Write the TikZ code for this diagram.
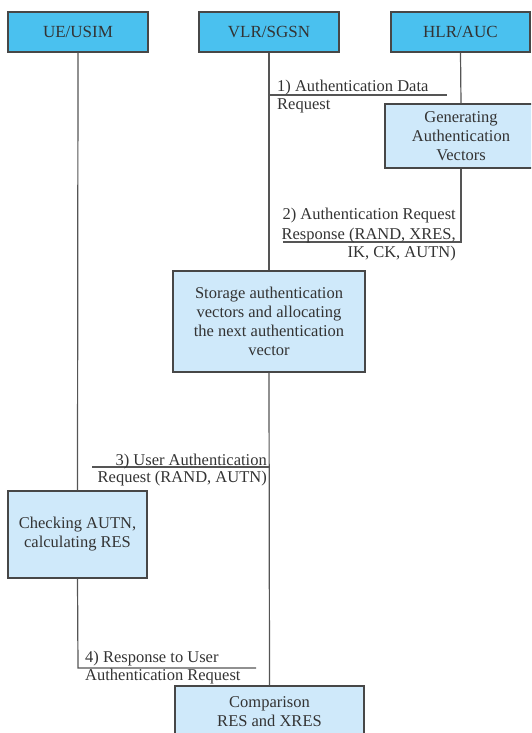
\documentclass[tikz,border=0pt]{standalone}
\usepackage{fontspec}
\setmainfont{Liberation Serif}
\newfontfamily\labelfont{Liberation Serif}
\definecolor{topblue}{HTML}{4AC1EF}
\definecolor{procblue}{HTML}{CFE9FA}
\definecolor{edge}{HTML}{474747}
\definecolor{txt}{HTML}{333333}
\definecolor{life}{HTML}{555555}
\begin{document}
\begin{tikzpicture}[x=1pt,y=-1pt,
  entity/.style={draw=edge,line width=1.3pt,fill=topblue,minimum height=40pt,
    inner sep=0pt,font=\labelfont\fontsize{17}{20}\selectfont,text=txt},
  proc/.style={draw=edge,line width=1.3pt,fill=procblue,inner sep=0pt,align=center,
    font=\labelfont\fontsize{16.5}{19}\selectfont,text=txt},
  msg/.style={inner sep=0pt,font=\labelfont\fontsize{16.5}{18.5}\selectfont,text=txt},
  lifeline/.style={draw=life,line width=1.2pt},
]
\useasboundingbox (0,0) rectangle (531,733);
\clip (0,0) rectangle (531,733);

% participants
\node[entity,minimum width=140pt] (ue)  at (78,32)    {UE/USIM};
\node[entity,minimum width=140pt] (vlr) at (269,32)   {VLR/SGSN};
\node[entity,minimum width=139pt] (hlr) at (460.5,32) {HLR/AUC};

% processing boxes
\node[proc,minimum width=152pt,minimum height=64pt]  (gen) at (461,136)
  {Generating\\Authentication\\Vectors};
\node[proc,minimum width=192pt,minimum height=101pt] (st)  at (269,321.5)
  {Storage authentication\\vectors and allocating\\the next authentication\\vector};
\node[proc,minimum width=139pt,minimum height=87pt]  (chk) at (77.5,534.5)
  {Checking AUTN,\\calculating RES};
\node[proc,minimum width=189pt,minimum height=52pt]  (cmp) at (269.5,712)
  {Comparison\\RES and XRES};

% message end points
\coordinate (m1s) at (269,95);  \coordinate (m1e) at (447,95);
\coordinate (m2c) at (461,242); \coordinate (m2e) at (283,242);
\coordinate (m3s) at (269,467); \coordinate (m3e) at (92,467);
\coordinate (m4c) at (78,668);  \coordinate (m4e) at (256,668);

% lifelines
\draw[lifeline] (ue.south) -- (chk.north);
\draw[lifeline] (chk.south) -- (m4c) -- (m4e);
\draw[lifeline] (vlr.south) -- (st.north);
\draw[lifeline] (st.south) -- (cmp.north);
\draw[lifeline] (hlr.south) -- (gen.north);
\draw[lifeline] (gen.south) -- (m2c) -- (m2e);

% messages
\draw[lifeline] (m1s) -- (m1e);
\draw[lifeline] (m3s) -- (m3e);

\node[msg,anchor=base west] (m1a) at (277,92)  {1) Authentication Data};
\node[msg,anchor=base west] (m1b) at (277,110) {Request};

\node[msg,anchor=base east] (m2a) at (456,219) {2) Authentication Request};
\node[msg,anchor=base east] (m2b) at (456,239) {Response (RAND, XRES,};
\node[msg,anchor=base east] (m2d) at (456,257) {IK, CK, AUTN)};

\node[msg,anchor=base east] (m3a) at (267,465) {3) User Authentication};
\node[msg,anchor=base east] (m3b) at (267,482) {Request (RAND, AUTN)};

\node[msg,anchor=base west] (m4a) at (85,662) {4) Response to User};
\node[msg,anchor=base west] (m4b) at (85,680) {Authentication Request};
\end{tikzpicture}
\end{document}
